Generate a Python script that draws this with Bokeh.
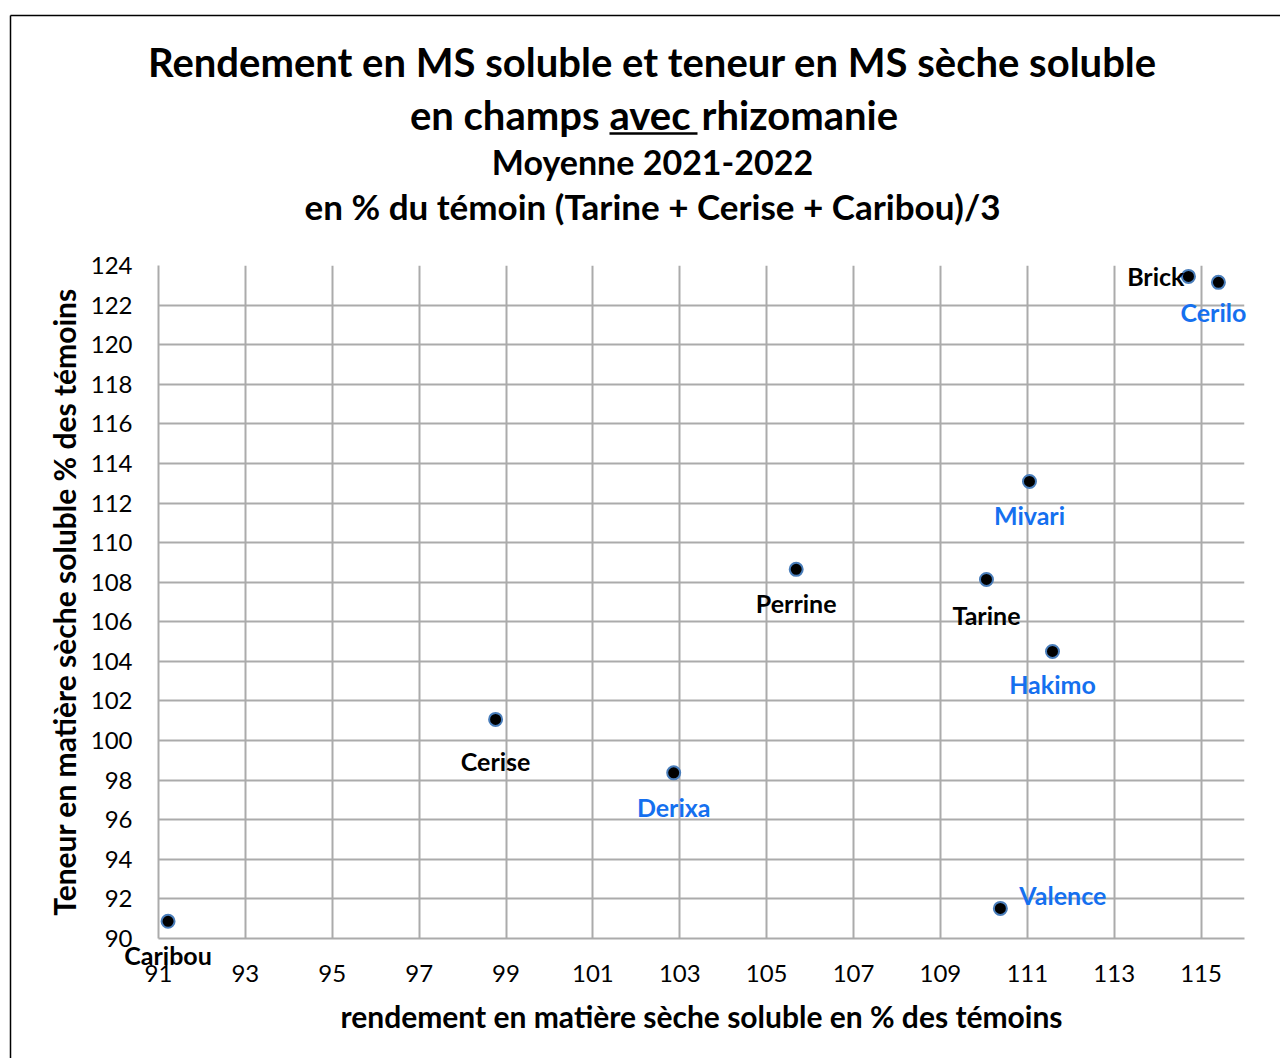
from bokeh.plotting import figure
from bokeh.models import ColumnDataSource, FixedTicker, Range1d
from bokeh.core.properties import value
from bokeh.embed import file_html
from bokeh.resources import INLINE

# ---------------- data ----------------
varieties = ["Caribou", "Cerise", "Derixa", "Perrine", "Tarine",
             "Mivari", "Hakimo", "Valence", "Brick", "Cerilo"]
rendement = [91.22, 98.76, 102.86, 105.68, 110.06, 111.05, 111.58, 110.38, 114.71, 115.40]
teneur = [90.87, 101.07, 98.37, 108.65, 108.14, 113.09, 104.50, 91.52, 123.45, 123.15]
x_ticks = [91, 93, 95, 97, 99, 101, 103, 105, 107, 109, 111, 113, 115]
y_ticks = [90, 92, 94, 96, 98, 100, 102, 104, 106, 108, 110, 112, 114, 116, 118, 120, 122, 124]

title_1 = "Rendement en MS soluble et teneur en MS sèche soluble"
title_2 = ["en champs", "avec", "rhizomanie"]
title_3 = "Moyenne 2021-2022"
title_4 = "en % du témoin (Tarine + Cerise + Caribou)/3"
x_title = "rendement en matière sèche soluble en % des témoins"
y_title = "Teneur en matière sèche soluble % des témoins"

# ---------------- styles ----------------
BLUE = "#1570EF"
label_colors = ["black", "black", BLUE, "black", "black", BLUE, BLUE, BLUE, "black", BLUE]
label_dx = [0, 0, 0, 0, 0, 0, 0, 19, -4, -5]          # px to the right
label_down = [34, 42, 34, 34, 36, 34, 33, -13, 0, 30]   # px downwards
label_align = ["center"] * 7 + ["left", "right", "center"]
FONT = "Lato"
GRID = "#ababab"

W, H = 1280, 1058
# frame position on the canvas (px)
FL, FR, FT, FB = 158, 1244, 265, 938
XMIN, XMAX, YMIN, YMAX = 91, 116, 90, 124


def px2x(px):
    return XMIN + (px - FL) / (FR - FL) * (XMAX - XMIN)


def py2y(py):
    return YMIN + (FB - py) / (FB - FT) * (YMAX - YMIN)


p = figure(width=W, height=H, output_backend="svg", toolbar_location=None,
           x_range=Range1d(XMIN, XMAX), y_range=Range1d(YMIN, YMAX),
           min_border_left=FL, min_border_right=W - FR,
           min_border_top=FT, min_border_bottom=H - FB)
p.outline_line_color = None
p.background_fill_color = "white"
p.border_fill_color = "white"

for ax, ticks in ((p.xaxis, x_ticks), (p.yaxis, y_ticks)):
    ax.ticker = FixedTicker(ticks=ticks)
    ax.major_tick_line_color = None
    ax.minor_tick_line_color = None
    ax.axis_line_color = GRID
    ax.axis_line_width = 2
    ax.major_label_text_font = FONT
    ax.major_label_text_font_size = "24px"
    ax.major_label_text_color = "black"
    ax.axis_label_text_font = FONT
    ax.axis_label_text_font_size = "30px"
    ax.axis_label_text_font_style = "bold"
    ax.axis_label_text_color = "black"

p.xaxis.axis_label = x_title
p.yaxis.axis_label = y_title
p.xaxis.major_label_standoff = 20
p.xaxis.axis_label_standoff = 13
p.yaxis.major_label_standoff = 20
p.yaxis.axis_label_standoff = 6

p.xgrid.ticker = FixedTicker(ticks=x_ticks)
p.ygrid.ticker = FixedTicker(ticks=y_ticks)
for g in (p.xgrid, p.ygrid):
    g.grid_line_color = GRID
    g.grid_line_width = 2

src = ColumnDataSource(dict(x=rendement, y=teneur, name=varieties, color=label_colors,
                            dx=label_dx, dy=label_down, align=label_align))
p.scatter("x", "y", source=src, size=13, fill_color="black",
          line_color="#4a7ebb", line_width=2)

p.text(x="x", y="y", text="name", source=src, x_offset="dx", y_offset="dy",
       text_align="align", text_baseline="alphabetic", text_color="color",
       text_font=value(FONT), text_font_size=value("25px"), text_font_style="bold",
       level="overlay")


def title_text(text, px, py, size, align="center"):
    p.text(x=[px2x(px)], y=[py2y(py)], text=[text], text_align=align,
           text_baseline="alphabetic", text_font=value(FONT), text_font_size=value(size),
           text_font_style="bold", text_color="black", level="overlay")


title_text(title_1, 652, 61, "40px")
title_text(title_2[0], 599, 114, "40px", "right")
title_text(title_2[1], 609, 114, "40px", "left")
title_text(title_2[2], 701, 114, "40px", "left")
title_text(title_3, 652, 161, "34px")
title_text(title_4, 652, 205, "35px")

# underline of "avec"
p.segment(x0=[px2x(609)], y0=[py2y(133)], x1=[px2x(697)], y1=[py2y(133)],
          line_color="black", line_width=2.5, level="overlay")

# outer chart border (top and left)
p.segment(x0=[px2x(10), px2x(10)], y0=[py2y(15), py2y(15)],
          x1=[px2x(1300), px2x(10)], y1=[py2y(15), py2y(1100)],
          line_color="black", line_width=1.5, level="overlay")

open("out.html", "w").write(file_html(p, INLINE))
